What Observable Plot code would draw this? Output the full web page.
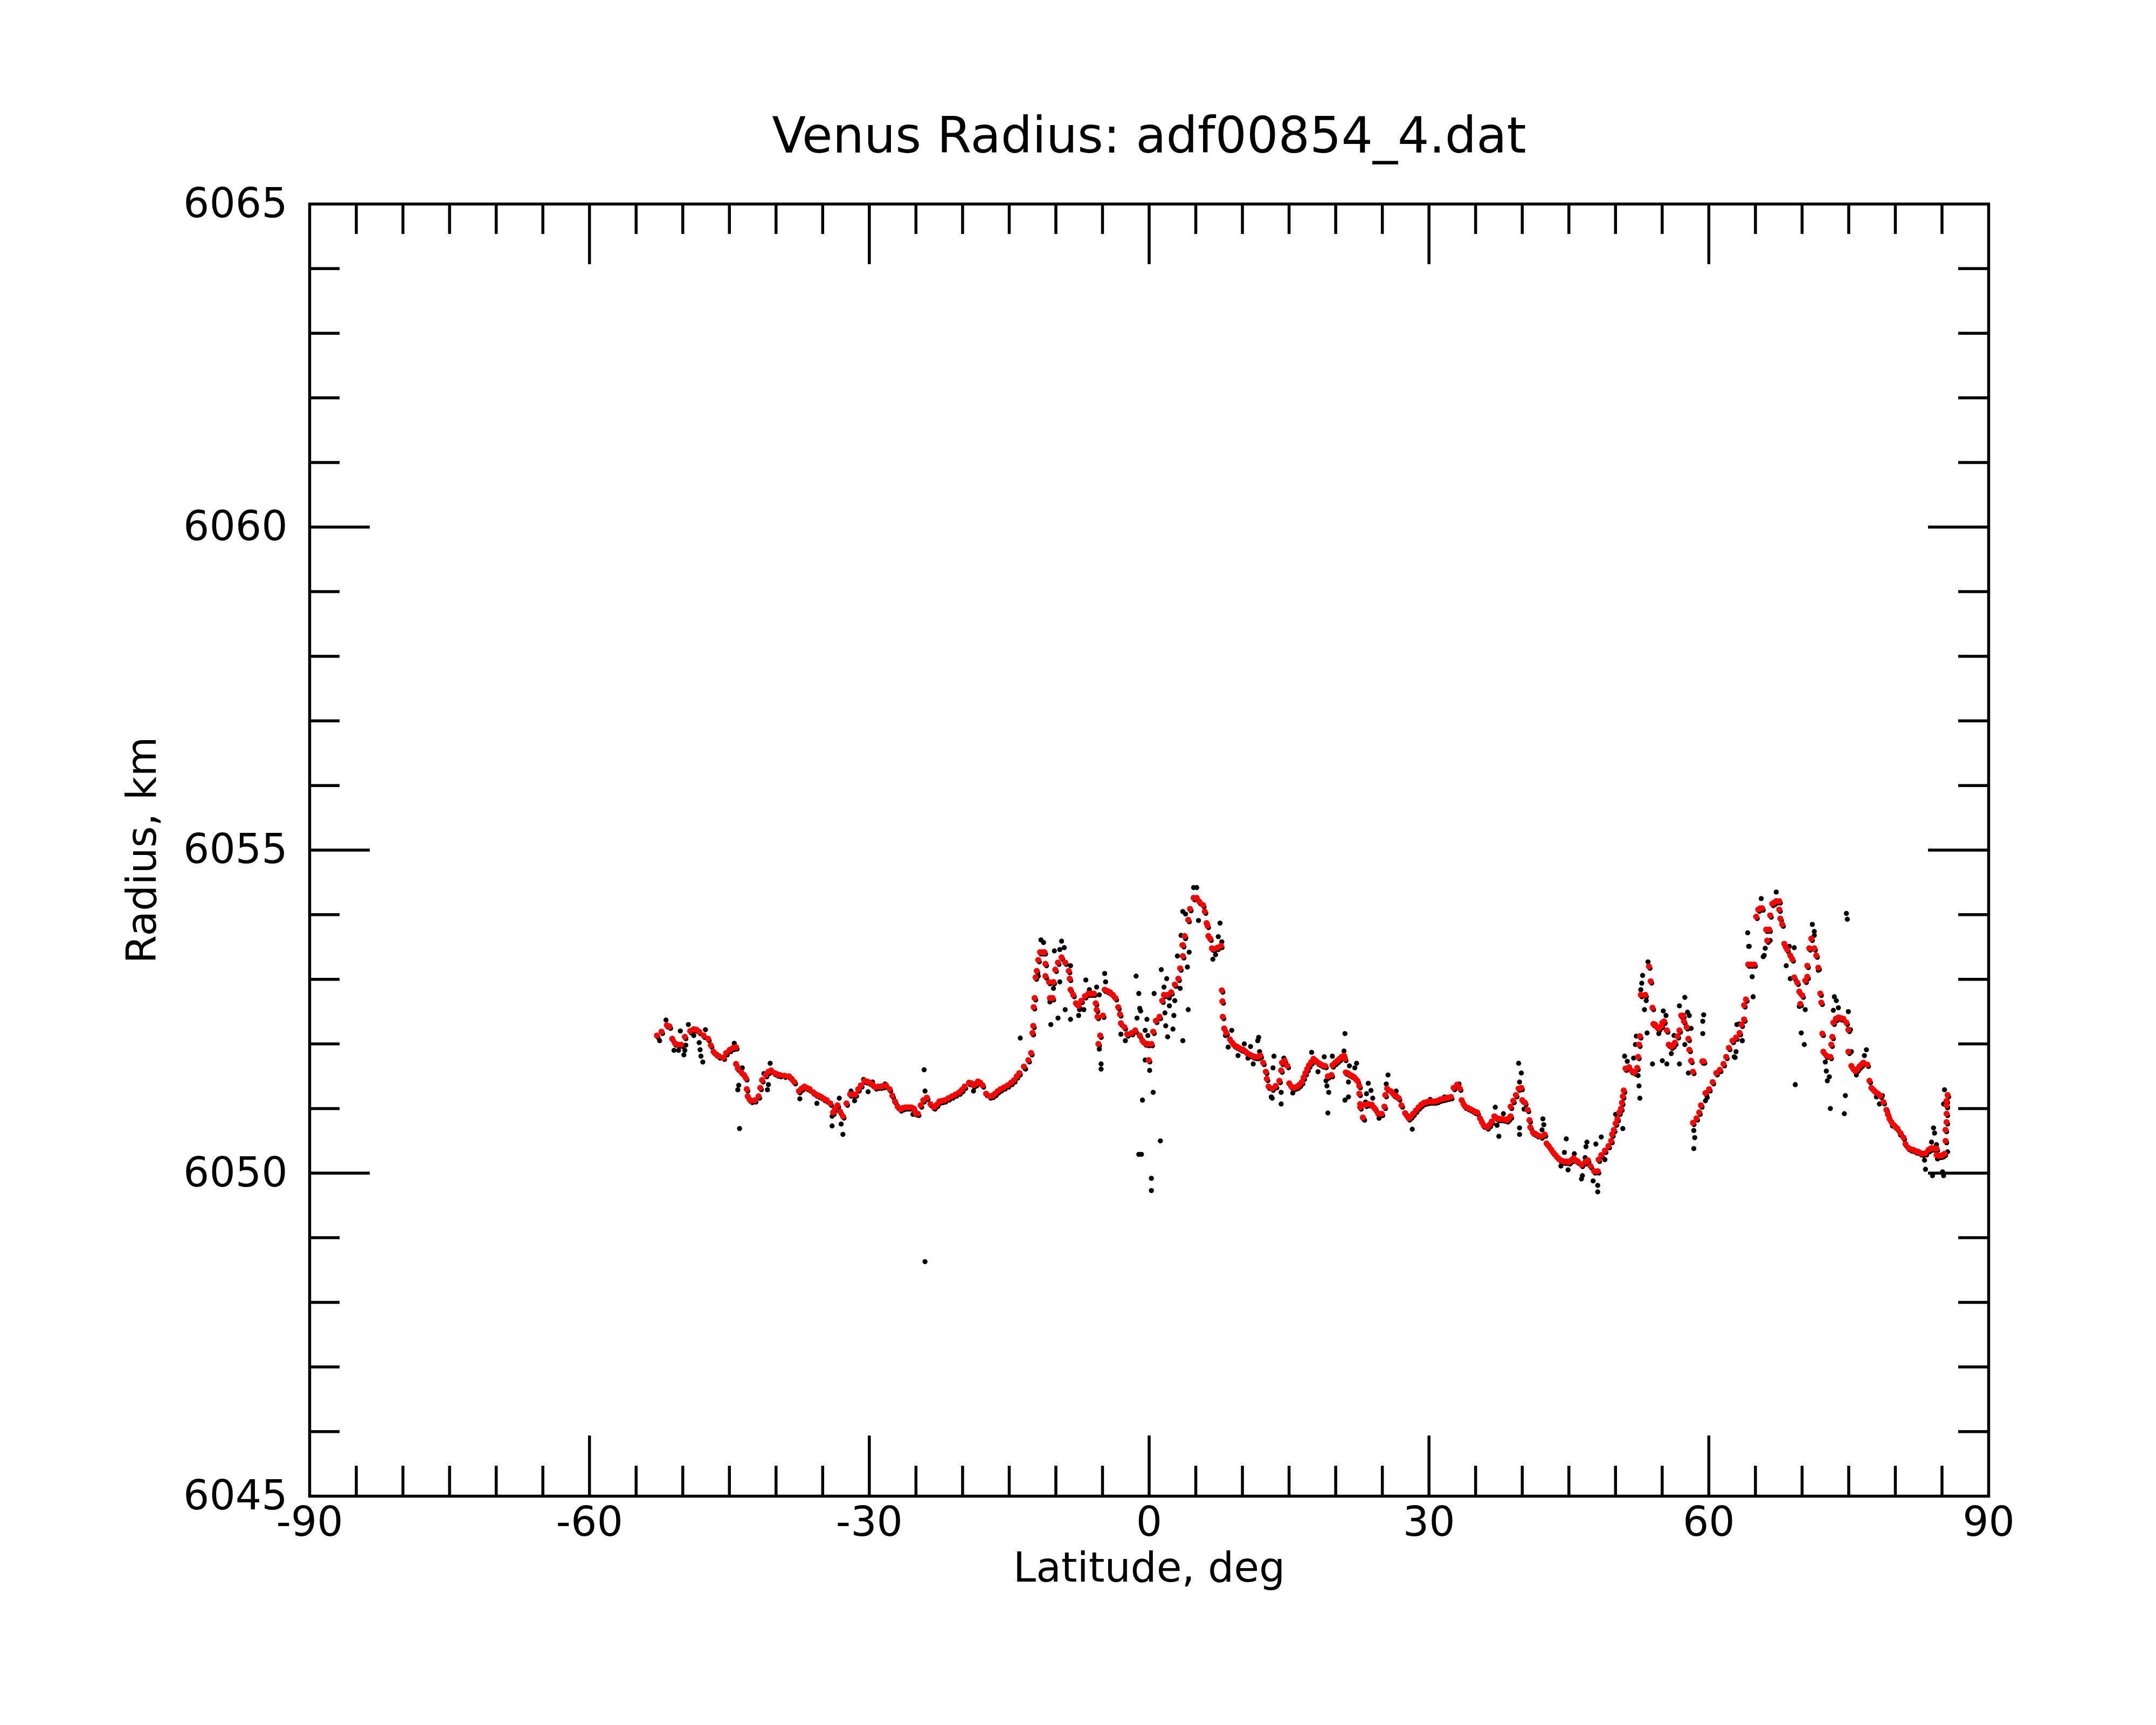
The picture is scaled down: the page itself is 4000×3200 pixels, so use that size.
<!DOCTYPE html>
<html>
<head>
<meta charset="utf-8">
<script src="https://cdn.jsdelivr.net/npm/d3@7"></script>
<script src="https://cdn.jsdelivr.net/npm/@observablehq/plot@0.6"></script>
<style>
html,body{margin:0;padding:0;background:#ffffff;}
#chart svg{display:block;}
</style>
</head>
<body>
<div id="chart"></div>
<script>
// ---- data: [latitude deg, radius km] ----
const filteredRadius = [
[-52.77,6052.13],[-52.28,6052.19],[-51.71,6052.29],[-51.42,6052.27],[-51.13,6052.08],[-50.84,6052.01],[-50.5,6051.99],[-50.17,6051.99],
[-49.78,6052.11],[-49.2,6052.2],[-48.82,6052.23],[-48.53,6052.22],[-48.24,6052.19],[-47.76,6052.13],[-47.28,6052.08],[-47.0,6051.98],
[-46.7,6051.88],[-46.41,6051.84],[-46.12,6051.81],[-45.64,6051.79],[-45.35,6051.86],[-44.97,6051.91],[-44.6,6051.94],[-44.29,6051.95],
[-44.29,6051.69],[-44.1,6051.62],[-43.72,6051.56],[-43.43,6051.52],[-43.23,6051.47],[-43.14,6051.3],[-43.04,6051.19],[-42.84,6051.14],
[-42.65,6051.12],[-42.27,6051.13],[-41.88,6051.19],[-41.69,6051.32],[-41.5,6051.44],[-41.11,6051.52],[-40.82,6051.57],[-40.53,6051.59],
[-40.15,6051.55],[-39.86,6051.53],[-39.57,6051.52],[-39.09,6051.51],[-38.61,6051.5],[-38.32,6051.46],[-38.03,6051.41],[-37.55,6051.27],
[-37.26,6051.31],[-36.97,6051.34],[-36.68,6051.32],[-36.39,6051.3],[-36.0,6051.25],[-35.72,6051.22],[-35.43,6051.2],[-35.14,6051.18],
[-34.85,6051.15],[-34.56,6051.13],[-34.18,6051.08],[-33.89,6050.94],[-33.7,6051.0],[-33.41,6051.05],[-33.12,6050.95],[-32.83,6050.88],
[-32.45,6051.08],[-32.06,6051.22],[-31.77,6051.22],[-31.48,6051.22],[-31.19,6051.3],[-30.9,6051.36],[-30.52,6051.43],[-30.23,6051.42],
[-29.94,6051.4],[-29.65,6051.37],[-29.36,6051.33],[-29.07,6051.34],[-28.78,6051.34],[-28.5,6051.35],[-28.21,6051.36],[-27.82,6051.3],
[-27.53,6051.2],[-27.25,6051.11],[-26.96,6051.03],[-26.67,6050.99],[-26.38,6051.01],[-26.09,6051.02],[-25.8,6051.02],[-25.51,6051.02],
[-25.22,6051.0],[-25.03,6050.93],
[-24.8,6050.92],[-24.5,6051.05],[-24.22,6051.13],[-23.83,6051.17],[-23.45,6051.07],[-23.06,6051.02],[-22.77,6051.06],[-22.49,6051.11],
[-22.2,6051.12],[-21.91,6051.13],[-21.53,6051.16],[-21.14,6051.19],[-20.75,6051.22],[-20.37,6051.25],[-20.08,6051.29],[-19.79,6051.34],
[-19.31,6051.4],[-19.02,6051.39],[-18.83,6051.36],[-18.6,6051.38],[-18.35,6051.42],[-18.1,6051.4],[-17.86,6051.36],[-17.48,6051.23],
[-17.09,6051.19],[-16.8,6051.2],[-16.52,6051.23],[-16.23,6051.27],[-15.94,6051.3],[-15.55,6051.33],[-15.17,6051.36],[-14.8,6051.4],
[-14.49,6051.44],[-14.2,6051.5],[-13.92,6051.55],[-13.43,6051.65],[-12.95,6051.75],[-12.66,6051.86],[-12.51,6052.17],[-12.43,6052.28],
[-12.38,6052.57],[-12.28,6052.71],[-12.18,6053.03],[-12.05,6053.13],[-11.89,6053.3],[-11.7,6053.42],[-11.41,6053.42],[-11.22,6053.42],
[-11.12,6053.24],[-11.12,6053.05],[-10.74,6052.96],[-10.64,6052.71],[-10.35,6052.71],[-10.26,6052.96],[-10.06,6053.15],[-9.78,6053.26],
[-9.39,6053.34],[-9.0,6053.26],[-8.62,6053.13],[-8.52,6053.01],[-8.43,6052.84],[-8.14,6052.76],[-7.85,6052.63],[-7.56,6052.59],
[-7.27,6052.67],[-6.89,6052.74],[-6.5,6052.78],[-6.2,6052.78],[-5.92,6052.78],[-5.73,6052.63],[-5.63,6052.53],[-5.54,6052.42],
[-5.25,6052.13],[-5.44,6052.0],[-4.96,6052.44],[-4.77,6052.84],[-4.48,6052.82],[-4.19,6052.8],[-3.9,6052.76],[-3.61,6052.71],
[-3.32,6052.57],[-3.13,6052.46],[-3.03,6052.32],[-2.65,6052.26],[-2.36,6052.15],[-1.88,6052.17],[-1.49,6052.21],[-1.01,6052.13],
[-0.72,6052.05],[-0.43,6052.01],[-0.14,6052.0],[-0.04,6051.75],[0.24,6052.0],[0.43,6052.19],[0.72,6052.36],[1.11,6052.42],
[1.4,6052.67],[1.59,6052.76],[1.98,6052.76],[2.36,6052.8],[2.75,6052.92],[3.13,6053.01],[3.32,6053.17],[3.61,6053.36],
[3.61,6053.53],[3.81,6053.67],[4.19,6053.92],[4.38,6054.09],[4.77,6054.26],
[5.1,6054.26],[5.39,6054.2],[5.77,6054.15],[5.96,6054.05],[6.16,6053.87],[6.25,6053.83],[6.35,6053.67],[6.54,6053.63],
[6.73,6053.48],[6.93,6053.47],[7.31,6053.49],[7.7,6053.52],[7.79,6052.83],[7.85,6052.66],[7.89,6052.42],[8.04,6052.24],
[8.27,6052.17],[8.66,6052.07],[8.9,6052.02],[9.14,6051.98],[9.38,6051.96],[9.62,6051.94],[9.86,6051.92],[10.1,6051.91],
[10.35,6051.88],[10.59,6051.85],[10.87,6051.83],[11.16,6051.81],[11.4,6051.8],[11.64,6051.8],[11.93,6051.82],[12.22,6051.71],
[12.51,6051.57],[12.61,6051.46],[12.8,6051.34],[13.19,6051.31],[13.57,6051.35],[13.96,6051.43],[14.15,6051.59],[14.24,6051.71],
[14.53,6051.74],[14.82,6051.66],[15.02,6051.39],[15.26,6051.34],[15.5,6051.32],[15.69,6051.33],[15.88,6051.34],[16.12,6051.37],
[16.36,6051.41],[16.55,6051.48],[16.75,6051.55],[16.94,6051.61],[17.13,6051.67],[17.37,6051.72],[17.62,6051.77],[17.86,6051.74],
[18.1,6051.71],[18.34,6051.69],[18.58,6051.67],[18.87,6051.66],[19.16,6051.5],[19.54,6051.52],[19.64,6051.67],[19.93,6051.71],
[20.17,6051.74],[20.41,6051.77],[20.65,6051.8],[20.89,6051.82],[20.99,6051.77],[21.08,6051.56],[21.27,6051.55],[21.47,6051.53],
[21.71,6051.51],[21.95,6051.49],[22.14,6051.46],[22.33,6051.43],[22.53,6051.35],[22.53,6051.23],[22.62,6051.07],[22.62,6051.02],
[22.91,6050.86],[23.2,6051.06],[23.49,6051.07],[23.87,6051.06],[24.07,6051.02],[24.26,6050.99],[24.55,6050.92],[24.74,6050.92],
[24.93,6050.92],[25.22,6051.03],[25.32,6051.21],[25.51,6051.31],[25.9,6051.27],[26.05,6051.25],[26.28,6051.21],[26.52,6051.19],
[26.76,6051.16],[27.05,6051.05],[27.44,6050.93],[27.63,6050.89],[27.82,6050.85],[28.06,6050.88],[28.3,6050.92],[28.59,6050.97],
[28.88,6051.02],[29.17,6051.06],[29.46,6051.09],[29.75,6051.1],[30.04,6051.11],[30.33,6051.11],[30.62,6051.11],[30.9,6051.12],
[31.19,6051.14],[31.48,6051.15],[31.77,6051.16],[32.06,6051.17],[32.35,6051.18],[32.64,6051.32],[33.02,6051.37],[33.31,6051.31],
[33.5,6051.13],[33.7,6051.07],[33.89,6051.03],[34.18,6051.01],[34.47,6050.99],[34.71,6050.97],[34.95,6050.95],
[35.18,6050.94],[35.47,6050.85],[35.67,6050.79],[35.86,6050.74],[36.24,6050.71],[36.5,6050.75],[36.72,6050.8],[37.01,6050.88],
[37.2,6050.86],[37.4,6050.84],[37.64,6050.84],[37.88,6050.84],[38.12,6050.83],[38.36,6050.82],[38.56,6050.85],[38.75,6050.88],
[38.75,6051.03],[39.03,6051.12],[39.32,6051.21],[39.61,6051.31],[39.9,6051.32],[40.0,6051.13],[40.29,6051.09],[40.58,6050.98],
[40.77,6050.82],[40.86,6050.71],[41.15,6050.63],[41.39,6050.61],[41.63,6050.59],[42.02,6050.57],[42.4,6050.6],[42.6,6050.46],
[42.84,6050.42],[43.08,6050.37],[43.32,6050.32],[43.56,6050.28],[43.8,6050.24],[44.04,6050.21],[44.28,6050.19],[44.52,6050.18],
[44.76,6050.18],[45.01,6050.17],[45.25,6050.2],[45.49,6050.23],[45.73,6050.2],[45.97,6050.18],[46.35,6050.13],[46.74,6050.17],
[47.03,6050.2],[47.32,6050.11],[47.7,6050.03],[48.09,6050.03],[48.18,6050.21],[48.47,6050.28],[48.86,6050.35],[49.24,6050.42],
[49.53,6050.5],[49.63,6050.6],[49.82,6050.67],[50.01,6050.77],[50.2,6050.84],[50.4,6050.94],[50.59,6051.0],[50.69,6051.09],
[50.78,6051.19],[50.88,6051.28],[51.07,6051.62],[51.46,6051.64],[51.75,6051.58],[52.04,6051.56],[52.32,6051.63],[52.42,6051.8],
[52.52,6051.99],[52.61,6052.12],[52.71,6052.76],[53.19,6052.76],[53.58,6053.2],[53.77,6052.97],[53.96,6052.56],[54.06,6052.31],
[54.25,6052.3],[54.44,6052.26],[54.64,6052.24],[54.92,6052.28],[55.02,6052.33],[55.21,6052.35],[55.5,6052.21],[55.7,6051.99],
[55.98,6051.96],[56.17,6051.98],[56.37,6052.02],[56.65,6052.12],[56.85,6052.21],[57.04,6052.44],[57.24,6052.44],[57.33,6052.35],
[57.62,6052.26],[57.81,6052.08],[57.91,6051.91],[58.1,6051.74],[58.3,6051.57],[59.3,6051.73],[59.45,6051.73],[58.3,6050.78],
[58.68,6050.85],[58.97,6050.94],[59.16,6051.05],[59.64,6051.24],[60.03,6051.3],[60.41,6051.41],[60.8,6051.55],[61.18,6051.6],
[61.57,6051.69],[61.86,6051.8],[62.15,6051.94],[62.53,6052.05],[62.92,6052.1],[63.3,6052.17],[63.5,6052.3],[63.78,6052.38],
[63.78,6052.6],[63.98,6052.69],
[64.22,6053.23],[64.55,6053.23],[64.87,6053.23],[65.08,6053.97],[65.3,6054.08],[65.5,6054.1],[65.72,6054.1],[66.15,6053.77],
[66.48,6053.77],[66.26,6053.6],[66.58,6053.99],[66.8,6054.17],[67.02,6054.19],[67.23,6054.21],[67.55,6054.21],[67.55,6054.08],
[67.66,6053.94],[67.87,6053.85],[68.09,6053.55],[68.25,6053.5],[68.41,6053.46],[68.73,6053.37],[68.95,6053.31],[69.16,6053.03],
[69.48,6052.95],[69.7,6052.81],[70.02,6052.75],[69.81,6052.62],[70.34,6052.98],[70.56,6053.04],[70.56,6053.21],[70.77,6053.48],
[70.99,6053.63],[71.31,6053.48],[71.52,6053.37],[71.74,6053.18],[71.95,6052.78],[72.06,6052.64],[72.17,6052.16],[72.28,6051.88],
[72.6,6051.82],[73.03,6051.8],[73.24,6052.11],[73.13,6051.99],[73.35,6052.33],[73.62,6052.39],[73.89,6052.41],[74.15,6052.4],
[74.42,6052.39],[74.75,6052.33],[74.96,6052.22],[74.96,6051.88],[75.28,6051.66],[75.5,6051.61],[75.71,6051.58],[75.92,6051.61],
[76.14,6051.65],[76.35,6051.68],[76.57,6051.71],[77.0,6051.68],[77.22,6051.43],[77.43,6051.32],[77.65,6051.29],[77.86,6051.26],
[78.13,6051.23],[78.4,6051.2],[78.72,6051.1],[79.04,6050.98],[79.2,6050.91],[79.37,6050.84],[79.58,6050.79],[79.8,6050.75],
[80.0,6050.72],[80.22,6050.69],[80.55,6050.62],[80.87,6050.55],[81.08,6050.45],[81.41,6050.39],[81.67,6050.37],[81.94,6050.36],
[82.2,6050.34],[82.48,6050.33],[82.7,6050.31],[82.91,6050.3],[83.23,6050.31],[83.56,6050.36],[83.77,6050.38],[83.98,6050.39],
[84.2,6050.38],[84.41,6050.38],[84.41,6050.28],[84.62,6050.27],[84.84,6050.27],[85.06,6050.28],[85.27,6050.3],[85.38,6050.5],
[85.38,6050.67],[85.49,6050.79],[85.49,6050.92],[85.49,6051.05],[85.49,6051.12],[85.6,6051.21]
];

const rawRadius = [
[-52.48,6052.05],[-51.8,6052.37],[-50.94,6051.9],[-50.45,6051.9],[-49.88,6051.83],[-49.78,6051.9],[-49.68,6051.98],[-50.26,6052.2],
[-49.4,6052.3],[-48.82,6052.13],[-48.24,6052.02],[-48.14,6051.91],[-48.05,6051.81],[-47.85,6051.72],[-47.57,6052.22],[-44.48,6052.01],
[-43.62,6051.63],[-44.0,6051.36],[-44.1,6051.29],[-43.91,6050.69],[-40.63,6051.7],[-41.3,6051.54],[-40.82,6051.37],[-40.92,6051.29],
[-37.45,6051.15],[-35.62,6051.08],[-33.99,6050.88],[-33.99,6050.73],[-33.02,6050.76],[-32.83,6050.6],[-33.22,6051.16],[-31.96,6051.27],
[-31.58,6051.12],[-30.62,6051.45],[-30.13,6051.26],[-29.65,6051.41],[-28.31,6051.38],[-25.32,6050.91],
[-24.12,6051.6],[-24.03,6051.27],[-24.03,6048.63],[-23.06,6051.0],[-18.83,6051.27],[-13.82,6052.09],[-13.24,6051.61],[-11.6,6053.61],
[-11.32,6053.57],[-12.47,6052.15],[-11.89,6053.05],[-10.64,6052.65],[-10.54,6052.3],[-10.26,6052.86],[-9.77,6052.4],[-10.16,6053.44],
[-9.58,6053.46],[-9.39,6053.59],[-9.1,6053.49],[-9.58,6052.96],[-9.0,6052.53],[-8.43,6052.38],[-8.43,6053.21],[-7.56,6052.44],
[-7.46,6052.53],[-6.79,6052.99],[-7.0,6052.53],[-6.41,6052.84],[-5.63,6052.88],[-5.34,6052.76],[-4.77,6053.09],[-4.67,6052.96],
[-5.34,6051.92],[-5.15,6051.69],[-5.15,6051.61],[-3.03,6052.15],[-2.55,6052.05],[-1.4,6053.05],[-1.11,6052.78],[-1.01,6052.55],
[-1.3,6052.4],[-0.91,6052.51],[-1.11,6050.29],[-0.82,6050.29],[-0.24,6052.38],[-0.43,6052.21],[-0.43,6051.75],[0.05,6051.59],
[0.43,6051.25],[-0.72,6051.13],[0.24,6049.92],[0.24,6049.73],[1.2,6050.5],[0.53,6052.78],[-0.14,6052.13],[1.3,6053.15],
[1.88,6053.01],[1.59,6052.88],[1.69,6052.48],[1.98,6052.11],[2.17,6052.59],[1.78,6052.28],[2.55,6052.23],[2.65,6052.44],
[2.17,6052.71],[2.75,6052.67],[3.32,6052.86],[3.03,6053.36],[3.61,6052.05],[3.42,6053.68],[3.9,6053.63],[3.52,6053.53],
[4.1,6053.19],[4.29,6053.42],[4.19,6052.53],[3.61,6054.05],[3.9,6054.01],[4.77,6054.42],
[5.1,6054.42],[5.29,6053.91],[7.6,6053.87],[7.41,6053.66],[7.79,6053.58],[7.12,6053.38],[6.83,6053.31],[8.85,6052.21],
[8.47,6051.95],[8.18,6052.13],[10.2,6052.0],[10.87,6051.96],[11.74,6052.1],[11.64,6052.05],[9.53,6051.82],[10.59,6051.78],
[11.16,6051.69],[11.84,6051.88],[13.38,6051.81],[13.28,6051.63],[14.44,6051.78],[14.15,6051.25],[14.15,6051.07],[13.09,6051.18],
[13.19,6051.16],[15.4,6051.24],[17.42,6051.87],[18.1,6051.57],[18.77,6051.8],[19.64,6051.81],[18.96,6051.43],[19.06,6051.35],
[19.25,6051.25],[19.16,6050.93],[20.99,6052.16],[20.89,6051.89],[21.47,6051.66],[22.24,6051.7],[22.05,6051.63],[21.37,6051.41],
[20.99,6051.13],[21.37,6051.18],[23.49,6051.39],[23.78,6051.28],[23.3,6051.23],[23.97,6051.16],[23.2,6051.1],[25.61,6051.52],
[25.42,6051.38],[26.48,6051.27],[28.21,6050.68],[24.65,6050.85],[23.1,6050.82],[33.22,6051.38],[30.13,6051.14],[31.67,6051.18],
[37.11,6051.02],[37.3,6050.74],[37.49,6050.57],[37.98,6050.92],[39.71,6050.7],[39.71,6050.6],[39.61,6051.7],[39.9,6051.55],
[39.71,6051.41],[40.19,6050.99],[42.21,6050.84],[42.31,6050.75],[42.12,6050.67],[44.72,6050.53],[44.52,6050.32],[44.14,6050.11],
[44.91,6050.05],[45.58,6050.3],[46.45,6049.96],[46.35,6049.91],[46.93,6050.48],[46.83,6050.41],[46.74,6050.24],[47.89,6050.45],
[47.6,6049.88],[48.09,6049.81],[48.09,6049.71],[48.47,6050.56],[48.86,6050.21],[50.01,6050.91],[50.78,6050.69],[50.97,6051.81],
[51.26,6051.73],[51.94,6051.78],[52.42,6051.51],[52.52,6051.35],[52.61,6051.16],[52.23,6052.12],[52.13,6051.99],[52.71,6052.84],
[52.81,6052.94],[52.9,6053.06],[53.48,6053.27],[53.29,6052.67],[53.1,6052.53],[53.38,6052.17],[53.96,6051.69],[54.64,6052.16],
[55.12,6052.51],[55.41,6052.44],[55.02,6051.74],[55.5,6051.69],[55.98,6051.85],[56.27,6052.13],[56.85,6052.59],[57.43,6052.72],
[57.72,6052.49],[57.91,6052.44],[58.1,6052.24],[56.85,6051.69],[57.43,6051.99],[57.81,6051.55],[59.45,6052.45],[59.35,6052.35],
[59.35,6052.16],[58.39,6050.66],[58.49,6050.55],[58.39,6050.38],[59.64,6051.12],[59.83,6051.17],[62.92,6051.88],[62.72,6051.8],
[63.59,6052.05],[63.01,6052.3],[64.17,6053.72],[64.27,6053.51],[64.65,6053.04],[64.75,6052.73],
[63.25,6052.31],[63.58,6052.05],[62.82,6051.79],[64.33,6053.51],[65.62,6054.25],[65.94,6053.37],[66.05,6053.48],[65.83,6053.35],
[66.58,6053.6],[67.23,6054.35],[68.3,6053.21],[68.63,6053.51],[69.16,6053.49],[68.73,6053.01],[69.7,6052.58],[70.34,6052.53],
[69.91,6052.17],[70.24,6051.99],[69.27,6051.37],[71.1,6053.85],[71.31,6053.74],[71.31,6053.68],[71.74,6053.14],[73.46,6052.73],
[73.67,6052.67],[73.89,6052.56],[73.35,6052.52],[74.96,6052.5],[75.18,6052.22],[75.28,6051.88],[72.49,6051.72],[72.6,6051.58],
[72.92,6051.49],[72.71,6051.43],[73.03,6051.0],[74.64,6051.2],[74.53,6050.92],[74.75,6054.02],[74.85,6053.93],[76.9,6051.91],
[76.68,6051.82],[75.82,6051.52],[77.97,6051.18],[78.29,6051.07],[78.61,6051.2],[79.69,6050.73],[80.55,6050.59],[83.13,6050.2],
[83.23,6050.06],[83.88,6050.48],[84.09,6050.7],[84.2,6050.62],[83.98,6049.96],[84.41,6050.44],[84.52,6050.22],[85.06,6050.02],
[85.17,6049.96],[85.27,6051.29],[85.17,6051.07],[85.6,6051.01],[85.6,6050.33]
];

// ---- axis ticks ----
const latTicks = [-90, -60, -30, 0, 30, 60, 90];
const latMajorInner = [-60, -30, 0, 30, 60];
const latMinor = [-85,-80,-75,-70,-65,-55,-50,-45,-40,-35,-25,-20,-15,-10,-5,5,10,15,20,25,35,40,45,50,55,65,70,75,80,85];
const radTicks = [6045, 6050, 6055, 6060, 6065];
const radMajorInner = [6050, 6055, 6060];
const radMinor = [6046,6047,6048,6049,6051,6052,6053,6054,6056,6057,6058,6059,6061,6062,6063,6064];

const titleText = "Venus Radius: adf00854_4.dat";
const xLabel = "Latitude, deg";
const yLabel = "Radius, km";

// ---- layout ----
const W = 4000, H = 3200;
const mL = 574, mR = 311, mT = 378, mB = 425;
const fw = W - mL - mR, fh = H - mT - mB;
const majorLen = 112, minorLen = 56, lw = 5.5;
const FONT = "DejaVu Sans";

const filtered = filteredRadius.map(([lat, r]) => ({lat, r}));
const raw = rawRadius.map(([lat, r]) => ({lat, r}));

const tickStyle = {stroke: "black", strokeWidth: lw, strokeLinecap: "butt"};

const chart = Plot.plot({
  width: W,
  height: H,
  marginLeft: mL,
  marginRight: mR,
  marginTop: mT,
  marginBottom: mB,
  style: {fontFamily: FONT, fontSize: "76px", background: "white", color: "black"},
  x: {domain: [-90, 90]},
  y: {domain: [6045, 6065]},
  marks: [
    // bottom / top ticks
    Plot.tickX(latMinor, {x: d => d, insetTop: fh - minorLen, ...tickStyle}),
    Plot.tickX(latMinor, {x: d => d, insetBottom: fh - minorLen, ...tickStyle}),
    Plot.tickX(latMajorInner, {x: d => d, insetTop: fh - majorLen, ...tickStyle}),
    Plot.tickX(latMajorInner, {x: d => d, insetBottom: fh - majorLen, ...tickStyle}),
    // left / right ticks
    Plot.tickY(radMinor, {y: d => d, insetRight: fw - minorLen, ...tickStyle}),
    Plot.tickY(radMinor, {y: d => d, insetLeft: fw - minorLen, ...tickStyle}),
    Plot.tickY(radMajorInner, {y: d => d, insetRight: fw - majorLen, ...tickStyle}),
    Plot.tickY(radMajorInner, {y: d => d, insetLeft: fw - majorLen, ...tickStyle}),
    // tick labels
    Plot.axisX({anchor: "bottom", ticks: latTicks, tickSize: 0, tickPadding: 20, tickFormat: d => String(d), label: null, fontSize: 76, fontFamily: FONT, fill: "black"}),
    Plot.axisY({anchor: "left", ticks: radTicks, tickSize: 0, tickPadding: 41, tickFormat: d => String(d), label: null, fontSize: 76, fontFamily: FONT, fill: "black"}),
    // data
    Plot.dot(raw, {x: "lat", y: "r", r: 4.7, fill: "black", stroke: "none"}),
    Plot.dot(filtered, {x: "lat", y: "r", r: 4.7, fill: "black", stroke: "none", dx: 2, dy: 3.5}),
    Plot.dot(filtered, {x: "lat", y: "r", r: 5.6, fill: "#ff0000", stroke: "none"}),
    // frame
    Plot.frame({stroke: "black", strokeWidth: lw}),
    // titles
    Plot.text([titleText], {frameAnchor: "top", dy: -125, textAnchor: "middle", lineAnchor: "middle", fontSize: 92, fontFamily: FONT, fill: "black"}),
    Plot.text([xLabel], {frameAnchor: "bottom", dy: 134, textAnchor: "middle", lineAnchor: "middle", fontSize: 76, fontFamily: FONT, fill: "black"}),
    Plot.text([yLabel], {frameAnchor: "left", dx: -310, rotate: -90, textAnchor: "middle", lineAnchor: "middle", fontSize: 76, fontFamily: FONT, fill: "black"})
  ]
});

document.getElementById("chart").appendChild(chart);
</script>
</body>
</html>
